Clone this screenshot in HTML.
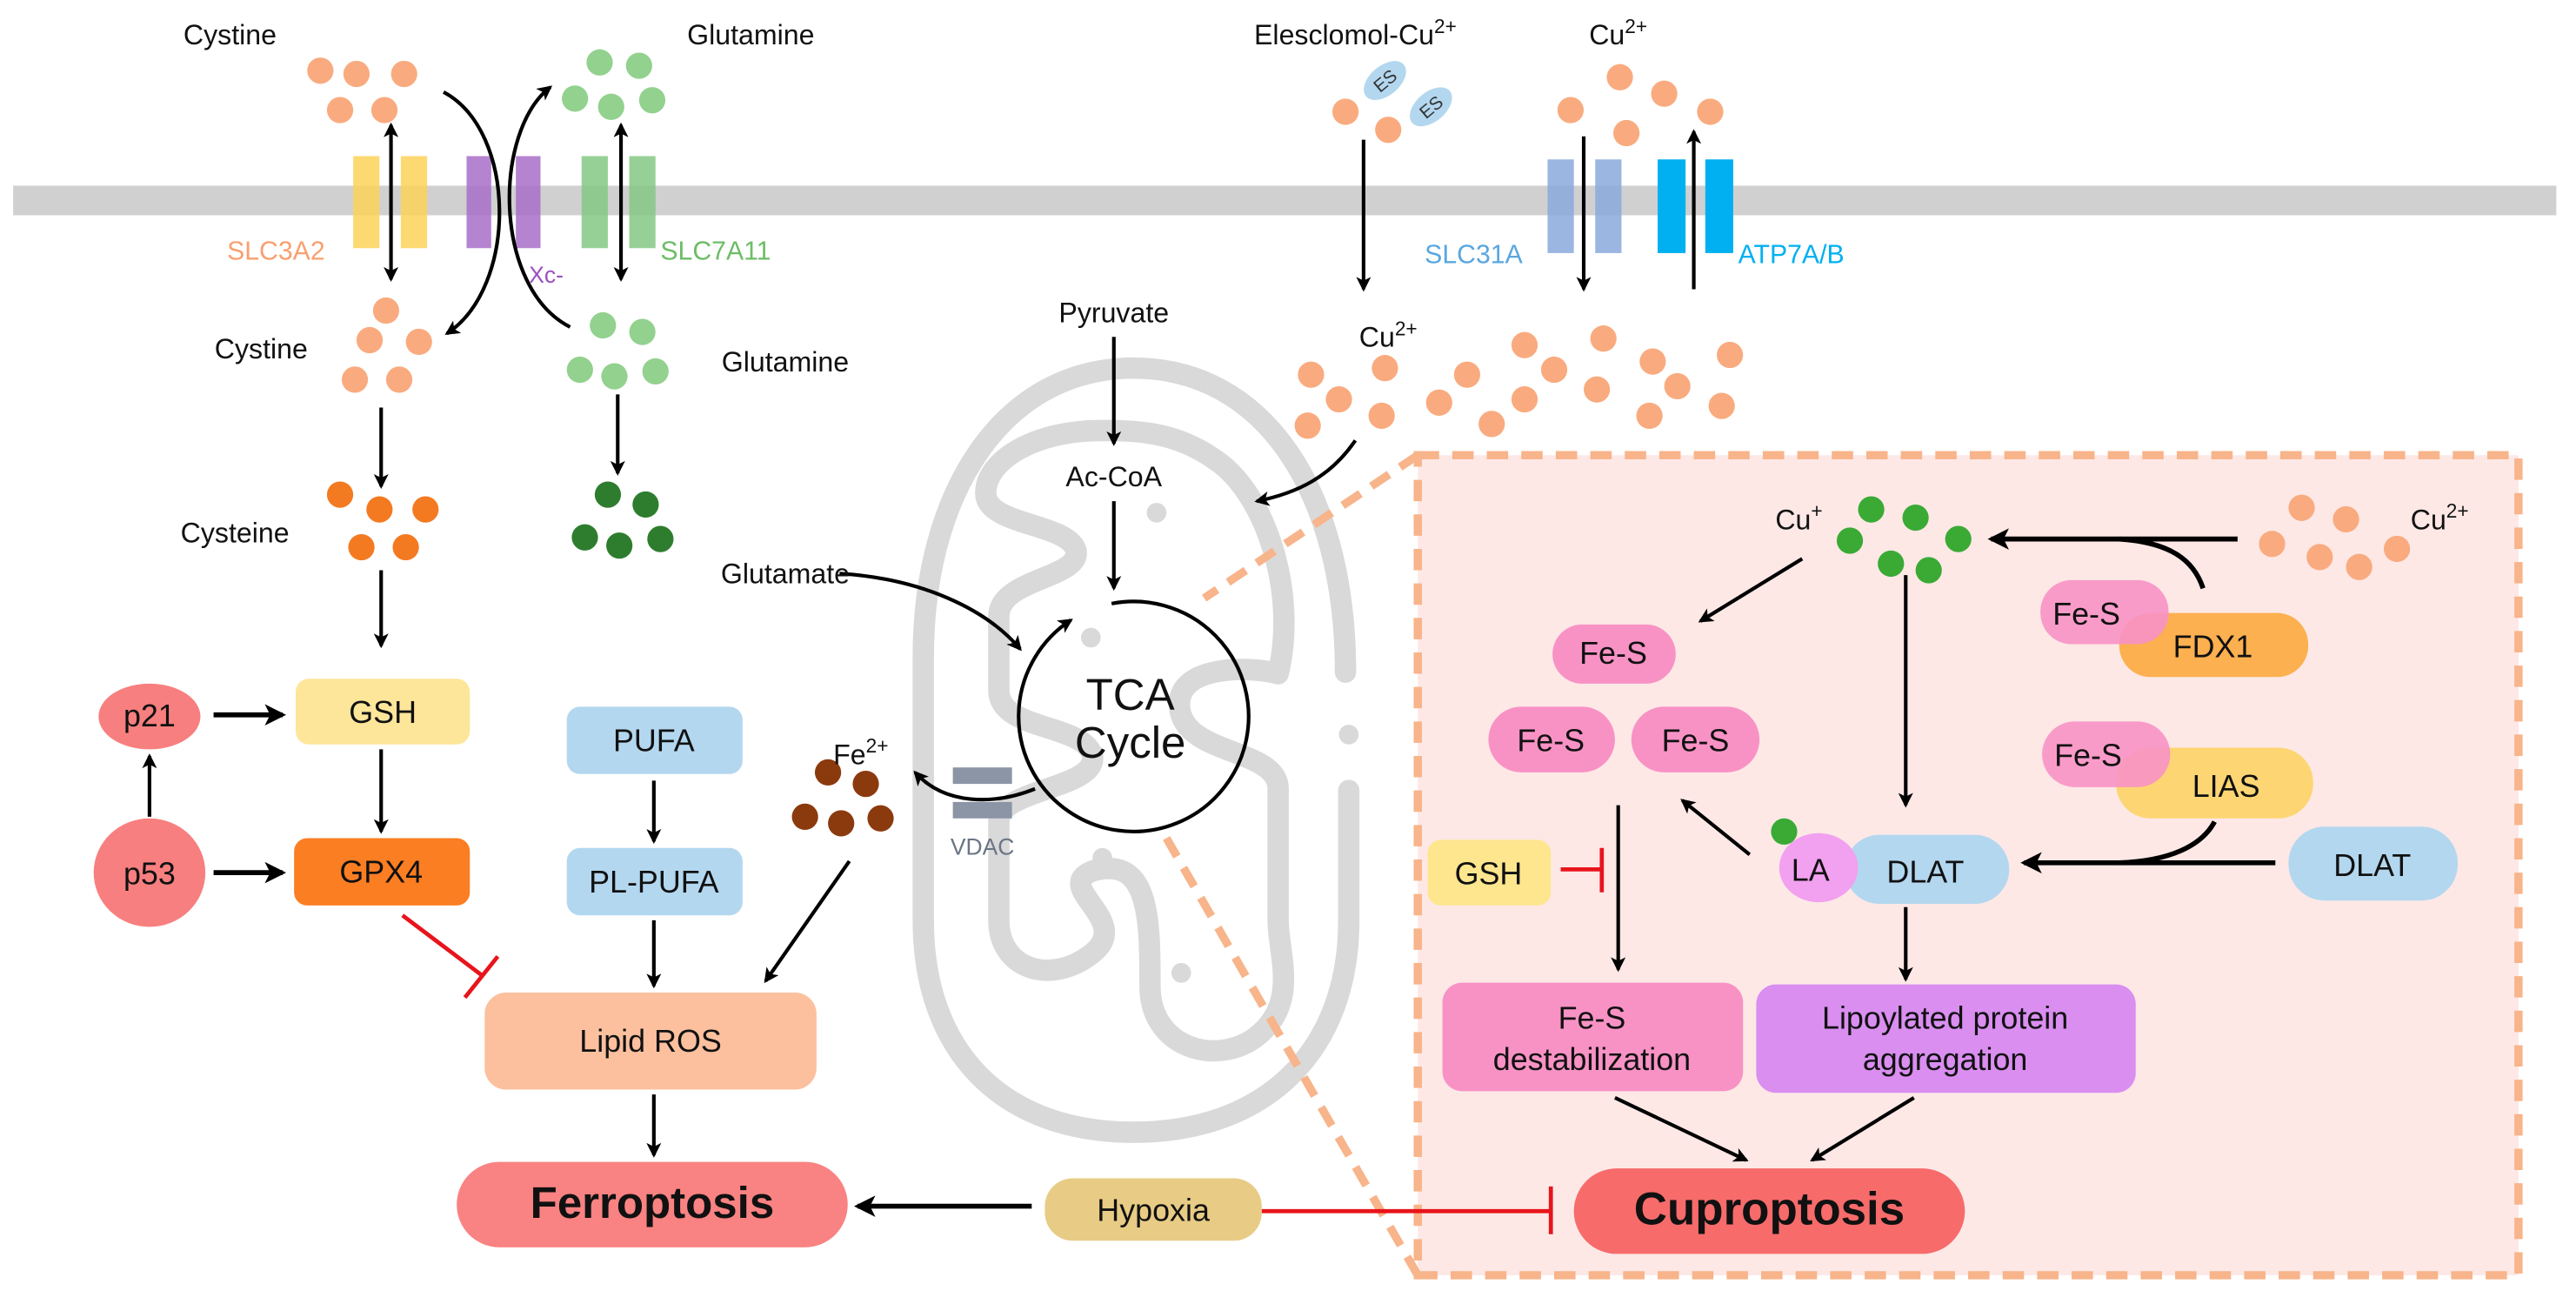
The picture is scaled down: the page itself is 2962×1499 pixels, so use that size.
<!DOCTYPE html>
<html><head><meta charset="utf-8"><style>
html,body{margin:0;padding:0;background:#fff;}
svg{display:block;font-family:"Liberation Sans",Arial,sans-serif;}
</style></head><body>
<svg width="2962" height="1499" viewBox="0 0 1568 793.5" preserveAspectRatio="none" xmlns="http://www.w3.org/2000/svg">
<defs>
<marker id="a" viewBox="0 0 12 12" refX="10" refY="6" markerWidth="9" markerHeight="9" orient="auto-start-reverse" markerUnits="userSpaceOnUse">
<path d="M0,0 L12,6 L0,12 L3,6 z" fill="#000"/></marker>
<marker id="b" viewBox="0 0 12 12" refX="10" refY="6" markerWidth="13" markerHeight="13" orient="auto-start-reverse" markerUnits="userSpaceOnUse">
<path d="M0,0 L12,6 L0,12 L3,6 z" fill="#000"/></marker>
</defs>
<rect width="1568" height="793.5" fill="#fff"/>
<!-- membrane -->
<rect x="8" y="113" width="1548" height="18" fill="#d0d0d0"/>

<!-- mitochondrion -->
<g fill="none" stroke="#d9d9d9" stroke-width="13" stroke-linecap="round">
<path d="M819,409 C819,300 770,224 690,224 C610,224 562,300 562,400 L562,560 C562,640 610,689 690,689 C770,689 821,640 821,560 L821,481"/>
<path d="M778,410 C790,360 770,300 740,280 C715,262 690,262 670,262 C630,262 600,280 600,300 C600,320 650,318 655,335 C658,352 608,352 608,375 L608,420 C608,445 660,440 665,460 C668,480 608,480 608,500 L608,560 C608,590 640,600 665,580 C690,560 640,540 665,530 C700,520 700,560 700,600 C700,640 745,650 768,628 C790,608 778,580 778,560 L778,480 C778,455 720,460 718,430 C716,405 760,405 778,410"/>
</g>
<g fill="#d9d9d9">
<circle cx="704" cy="312" r="6"/><circle cx="664" cy="388" r="6"/><circle cx="821" cy="447" r="6"/><circle cx="671" cy="522" r="6"/><circle cx="719" cy="592" r="6"/>
</g>

<!-- dashed zoom lines & box -->
<rect x="863" y="277" width="670" height="499" fill="#fde8e6" stroke="#f8b48a" stroke-width="5" stroke-dasharray="13,8"/>
<line x1="863" y1="277" x2="733" y2="364" stroke="#f8b48a" stroke-width="5" stroke-dasharray="13,8"/>
<line x1="863" y1="776" x2="710" y2="510" stroke="#f8b48a" stroke-width="5" stroke-dasharray="13,8"/>

<!-- transporters -->
<g opacity="0.85">
<rect x="215" y="95" width="16" height="56" fill="#fdd35a"/><rect x="244" y="95" width="16" height="56" fill="#fdd35a"/>
<rect x="284" y="95" width="15" height="56" fill="#a96fc8"/><rect x="314" y="95" width="15" height="56" fill="#a96fc8"/>
<rect x="354" y="95" width="16" height="56" fill="#86c884"/><rect x="383" y="95" width="16" height="56" fill="#86c884"/>
<rect x="942" y="97" width="16" height="57" fill="#8aaadc"/><rect x="971" y="97" width="16" height="57" fill="#8aaadc"/>
</g>
<rect x="1009" y="97" width="17" height="57" fill="#00b0f0"/><rect x="1038" y="97" width="17" height="57" fill="#00b0f0"/>

<!-- dots -->
<g fill="#f9ab7f">
<circle cx="195" cy="43" r="8"/><circle cx="217" cy="45" r="8"/><circle cx="246" cy="45" r="8"/><circle cx="207" cy="67" r="8"/><circle cx="234" cy="67" r="8"/>
<circle cx="235" cy="189" r="8"/><circle cx="225" cy="207" r="8"/><circle cx="255" cy="208" r="8"/><circle cx="216" cy="231" r="8"/><circle cx="243" cy="231" r="8"/>
<circle cx="819" cy="68" r="8"/><circle cx="845" cy="79" r="8"/>
<circle cx="986" cy="47" r="8"/><circle cx="1013" cy="57" r="8"/><circle cx="956" cy="67" r="8"/><circle cx="1041" cy="68" r="8"/><circle cx="990" cy="81" r="8"/>
<circle cx="798" cy="228" r="8"/><circle cx="843" cy="224" r="8"/><circle cx="815" cy="243" r="8"/><circle cx="796" cy="259" r="8"/><circle cx="841" cy="253" r="8"/><circle cx="893" cy="228" r="8"/><circle cx="928" cy="210" r="8"/><circle cx="976" cy="206" r="8"/><circle cx="946" cy="225" r="8"/><circle cx="876" cy="245" r="8"/><circle cx="928" cy="243" r="8"/><circle cx="972" cy="237" r="8"/><circle cx="908" cy="258" r="8"/><circle cx="1006" cy="220" r="8"/><circle cx="1053" cy="216" r="8"/><circle cx="1021" cy="235" r="8"/><circle cx="1004" cy="253" r="8"/><circle cx="1048" cy="247" r="8"/>
<circle cx="1401" cy="309" r="8"/><circle cx="1428" cy="316" r="8"/><circle cx="1383" cy="331" r="8"/><circle cx="1412" cy="339" r="8"/><circle cx="1436" cy="345" r="8"/><circle cx="1459" cy="334" r="8"/>
</g>
<g fill="#92d18e">
<circle cx="365" cy="38" r="8"/><circle cx="389" cy="40" r="8"/><circle cx="350" cy="60" r="8"/><circle cx="372" cy="65" r="8"/><circle cx="397" cy="61" r="8"/>
<circle cx="367" cy="198" r="8"/><circle cx="391" cy="202" r="8"/><circle cx="353" cy="225" r="8"/><circle cx="374" cy="229" r="8"/><circle cx="399" cy="226" r="8"/>
</g>
<g fill="#f47a22">
<circle cx="207" cy="301" r="8"/><circle cx="231" cy="310" r="8"/><circle cx="259" cy="310" r="8"/><circle cx="220" cy="333" r="8"/><circle cx="247" cy="333" r="8"/>
</g>
<g fill="#2e7d2e">
<circle cx="370" cy="301" r="8"/><circle cx="393" cy="307" r="8"/><circle cx="356" cy="327" r="8"/><circle cx="377" cy="332" r="8"/><circle cx="402" cy="328" r="8"/>
</g>
<g fill="#8b3a0e">
<circle cx="504" cy="470" r="8"/><circle cx="527" cy="477" r="8"/><circle cx="490" cy="497" r="8"/><circle cx="512" cy="501" r="8"/><circle cx="536" cy="498" r="8"/>
</g>
<g fill="#3aaa35">
<circle cx="1139" cy="310" r="8"/><circle cx="1166" cy="315" r="8"/><circle cx="1126" cy="329" r="8"/><circle cx="1192" cy="328" r="8"/><circle cx="1151" cy="343" r="8"/><circle cx="1174" cy="347" r="8"/>
<circle cx="1086" cy="506" r="8"/>
</g>

<!-- ES -->
<g fill="#b3d7ef"><ellipse cx="843" cy="49" rx="15" ry="9" transform="rotate(-40 843 49)"/><ellipse cx="871" cy="65" rx="15" ry="9" transform="rotate(-40 871 65)"/></g>
<text x="843" y="53" font-size="11" text-anchor="middle" fill="#333" transform="rotate(-40 843 49)">ES</text>
<text x="871" y="69" font-size="11" text-anchor="middle" fill="#333" transform="rotate(-40 871 65)">ES</text>

<!-- VDAC -->
<rect x="580" y="467" width="36" height="10" fill="#8b95a5"/><rect x="580" y="488" width="36" height="10" fill="#8b95a5"/>

<!-- arrows -->
<g stroke="#000" stroke-width="2.2" fill="none" marker-end="url(#a)">
<line x1="238" y1="76" x2="238" y2="170" marker-start="url(#a)"/>
<line x1="378" y1="76" x2="378" y2="170" marker-start="url(#a)"/>
<path d="M270,56 C315,80 315,175 272,203"/>
<path d="M347,199 C300,175 300,80 335,53"/>
<line x1="232" y1="248" x2="232" y2="296"/>
<line x1="376" y1="240" x2="376" y2="288"/>
<line x1="232" y1="347" x2="232" y2="393"/>
<line x1="232" y1="456" x2="232" y2="506"/>
<line x1="398" y1="475" x2="398" y2="512"/>
<line x1="398" y1="560" x2="398" y2="600"/>
<line x1="398" y1="666" x2="398" y2="703"/>
<line x1="517" y1="524" x2="466" y2="597"/>
<line x1="91" y1="497" x2="91" y2="460"/>
<line x1="830" y1="85" x2="830" y2="176"/>
<line x1="964" y1="83" x2="964" y2="176"/>
<line x1="1031" y1="176" x2="1031" y2="80"/>
<line x1="678" y1="205" x2="678" y2="270"/>
<line x1="678" y1="305" x2="678" y2="358"/>
<path d="M511,349 C560,352 600,370 621,395"/>
<path d="M825,268 C810,290 790,300 765,305"/>
<path d="M630,480 C605,490 575,490 557,470"/>
<path d="M676.6,367.3 A70 70 0 1 1 651.9,377.3"/>
<path d="M1097,340 L1035,378"/>
<line x1="1160" y1="350" x2="1160" y2="490"/>
<line x1="985" y1="490" x2="985" y2="590"/>
<line x1="1160" y1="552" x2="1160" y2="596"/>
<line x1="1065" y1="520" x2="1024" y2="487"/>
<line x1="983" y1="668" x2="1063" y2="706"/>
<line x1="1165" y1="668" x2="1103" y2="706"/>
</g>
<g stroke="#000" stroke-width="3" fill="none" marker-end="url(#b)">
<line x1="130" y1="435" x2="172" y2="435"/>
<line x1="130" y1="531" x2="172" y2="531"/>
<line x1="628" y1="734" x2="522" y2="734"/>
<line x1="1362" y1="328" x2="1212" y2="328"/>
<line x1="1385" y1="525" x2="1232" y2="525"/>
</g>
<g stroke="#000" stroke-width="3" fill="none">
<path d="M1341,358 C1335,340 1320,330 1290,328"/>
<path d="M1348,500 C1340,515 1320,524 1290,525"/>
</g>
<!-- inhibition -->
<g stroke="#e8141b" stroke-width="2.5" fill="none">
<line x1="245" y1="557" x2="294" y2="594"/><line x1="283" y1="607" x2="303" y2="582"/>
<line x1="768" y1="737" x2="944" y2="737"/><line x1="944" y1="722" x2="944" y2="751"/>
<line x1="950" y1="529" x2="975" y2="529"/><line x1="975" y1="516" x2="975" y2="543"/>
</g>

<!-- boxes -->
<ellipse cx="91" cy="436" rx="31" ry="20" fill="#f87f7f"/>
<ellipse cx="91" cy="531" rx="34" ry="33" fill="#f87f7f"/>
<rect x="180" y="413" width="106" height="40" rx="8" fill="#fde69a"/>
<rect x="179" y="510" width="107" height="41" rx="8" fill="#fb7e23"/>
<rect x="345" y="430" width="107" height="41" rx="8" fill="#b3d7ef"/>
<rect x="345" y="516" width="107" height="41" rx="8" fill="#b3d7ef"/>
<rect x="295" y="604" width="202" height="59" rx="13" fill="#fcc09e"/>
<rect x="278" y="707" width="238" height="52" rx="26" fill="#f98282"/>
<rect x="636" y="717" width="132" height="38" rx="17" fill="#e8cb85"/>

<rect x="945" y="380" width="75" height="36" rx="18" fill="#f892c5"/>
<rect x="906" y="430" width="77" height="40" rx="20" fill="#f892c5"/>
<rect x="993" y="430" width="78" height="40" rx="20" fill="#f892c5"/>
<rect x="1290" y="373" width="115" height="39" rx="19" fill="#fcb04f"/>
<rect x="1242" y="353" width="78" height="39" rx="19" fill="#f892c5" opacity="0.9"/>
<rect x="1288" y="455" width="120" height="43" rx="21" fill="#fdd673"/>
<rect x="1243" y="439" width="78" height="40" rx="20" fill="#f892c5" opacity="0.9"/>
<rect x="1393" y="503" width="103" height="45" rx="22" fill="#b3d7ef"/>
<rect x="1123" y="508" width="100" height="42" rx="21" fill="#b3d7ef"/>
<ellipse cx="1107" cy="528" rx="24" ry="21" fill="#f2a0f0"/>
<rect x="869" y="511" width="75" height="40" rx="8" fill="#fde68e"/>
<rect x="878" y="598" width="183" height="66" rx="12" fill="#f892c5"/>
<rect x="1069" y="599" width="231" height="66" rx="12" fill="#d98ef0"/>
<rect x="958" y="711" width="238" height="52" rx="26" fill="#f76b6b"/>

<!-- texts -->
<g font-size="17" fill="#111">
<text x="140" y="27" text-anchor="middle">Cystine</text>
<text x="457" y="27" text-anchor="middle">Glutamine</text>
<text x="159" y="218" text-anchor="middle">Cystine</text>
<text x="478" y="226" text-anchor="middle">Glutamine</text>
<text x="143" y="330" text-anchor="middle">Cysteine</text>
<text x="478" y="355" text-anchor="middle">Glutamate</text>
<text x="678" y="196" text-anchor="middle">Pyruvate</text>
<text x="678" y="296" text-anchor="middle">Ac-CoA</text>
<text x="825" y="27" text-anchor="middle">Elesclomol-Cu<tspan font-size="12" dy="-7">2+</tspan></text>
<text x="985" y="27" text-anchor="middle">Cu<tspan font-size="12" dy="-7">2+</tspan></text>
<text x="845" y="211" text-anchor="middle">Cu<tspan font-size="12" dy="-7">2+</tspan></text>
<text x="524" y="465" text-anchor="middle">Fe<tspan font-size="12" dy="-7">2+</tspan></text>
<text x="1095" y="322" text-anchor="middle">Cu<tspan font-size="12" dy="-7">+</tspan></text>
<text x="1485" y="322" text-anchor="middle">Cu<tspan font-size="12" dy="-7">2+</tspan></text>
</g>
<text x="168" y="158" font-size="16" fill="#f8a070" text-anchor="middle">SLC3A2</text>
<text x="402" y="158" font-size="16" fill="#6dbd66">SLC7A11</text>
<text x="322" y="172" font-size="14" fill="#9b4fc0">Xc-</text>
<text x="897" y="160" font-size="16" fill="#5aa7df" text-anchor="middle">SLC31A</text>
<text x="1058" y="160" font-size="16" fill="#00b0f0">ATP7A/B</text>
<text x="598" y="520" font-size="14" fill="#6a7585" text-anchor="middle">VDAC</text>
<text x="688" y="432" font-size="27" text-anchor="middle" fill="#111">TCA</text>
<text x="688" y="461" font-size="27" text-anchor="middle" fill="#111">Cycle</text>
<g font-size="19" fill="#111" text-anchor="middle">
<text x="91" y="442">p21</text>
<text x="91" y="538">p53</text>
<text x="233" y="440">GSH</text>
<text x="232" y="537">GPX4</text>
<text x="398" y="457">PUFA</text>
<text x="398" y="543">PL-PUFA</text>
<text x="396" y="640">Lipid ROS</text>
<text x="702" y="743">Hypoxia</text>
<text x="982" y="404">Fe-S</text>
<text x="944" y="457">Fe-S</text>
<text x="1032" y="457">Fe-S</text>
<text x="1347" y="400">FDX1</text>
<text x="1270" y="380">Fe-S</text>
<text x="1355" y="485">LIAS</text>
<text x="1271" y="466">Fe-S</text>
<text x="1444" y="533">DLAT</text>
<text x="1172" y="537">DLAT</text>
<text x="1102" y="536">LA</text>
<text x="906" y="538">GSH</text>
<text x="969" y="626">Fe-S</text>
<text x="969" y="651">destabilization</text>
<text x="1184" y="626">Lipoylated protein</text>
<text x="1184" y="651">aggregation</text>
</g>
<text x="397" y="741" font-size="27" font-weight="bold" text-anchor="middle" fill="#111">Ferroptosis</text>
<text x="1077" y="745" font-size="28" font-weight="bold" text-anchor="middle" fill="#111">Cuproptosis</text>
</svg>
</body></html>
